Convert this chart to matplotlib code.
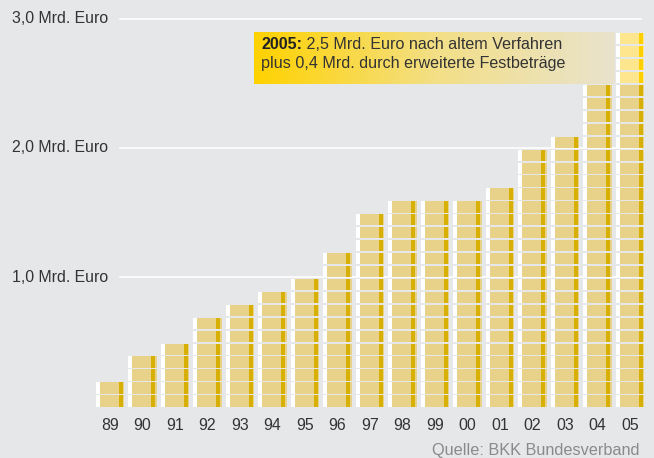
import numpy as np
import matplotlib.pyplot as plt
from matplotlib.patches import Rectangle
from matplotlib.colors import LinearSegmentedColormap

years = ["89", "90", "91", "92", "93", "94", "95", "96", "97",
         "98", "99", "00", "01", "02", "03", "04", "05"]
# Mrd. Euro nach altem Verfahren
values = [0.2, 0.4, 0.5, 0.7, 0.8, 0.9, 1.0, 1.2, 1.5,
          1.6, 1.6, 1.6, 1.7, 2.0, 2.1, 2.5, 2.5]
# zusaetzlich durch erweiterte Festbetraege
extra = [0, 0, 0, 0, 0, 0, 0, 0, 0,
         0, 0, 0, 0, 0, 0, 0, 0.4]
y_ticks = [1.0, 2.0, 3.0]
y_labels = ["1,0 Mrd. Euro", "2,0 Mrd. Euro", "3,0 Mrd. Euro"]

bg = "#e6e7e9"
plt.rcParams['font.family'] = ['Liberation Sans', 'DejaVu Sans']

fig = plt.figure(figsize=(6.54, 4.58), dpi=100, facecolor=bg)
ax = fig.add_axes([0, 0, 1, 1])
ax.set_facecolor(bg)
ax.axis("off")

# pixel -> data mapping
px_x = 32.5
px_y = 129.3
ax.set_xlim(-110 / px_x, (654 - 110) / px_x)
ax.set_ylim((406.5 - 458) / px_y, 406.5 / px_y)

# gridlines
for t, lab in zip(y_ticks, y_labels):
    ax.plot([0.3, 16.35], [t, t], color="white", lw=1.2, zorder=1)
    ax.text(-0.05, t, lab, ha="right", va="center", fontsize=11.4, color="#333333")

coin = 0.1
gap = 0.013
w_white = 4 / px_x
w_body = 19 / px_x
w_gold = 4 / px_x
w_end = 1.5 / px_x
half = (w_white + w_body + w_gold + w_end) / 2


def draw_coin(x, y0, body, gold):
    h = coin - gap
    left = x - half
    ax.add_patch(Rectangle((left, y0), w_white, h, fc="white", ec="none", zorder=3))
    ax.add_patch(Rectangle((left + w_white, y0), w_body, h, fc=body, ec="none", zorder=3))
    ax.add_patch(Rectangle((left + w_white + w_body, y0), w_gold, h, fc=gold, ec="none", zorder=3))
    ax.add_patch(Rectangle((left + w_white + w_body + w_gold, y0), w_end, h, fc=body, ec="none", zorder=3))


for i, (v, e) in enumerate(zip(values, extra)):
    n = int(round(v / coin))
    for k in range(n):
        draw_coin(i, k * coin, "#e8d28a", "#d7af05")
    m = int(round(e / coin))
    for k in range(n, n + m):
        draw_coin(i, k * coin, "#fde68e", "#ffcf00")
    ax.text(i, -0.15, years[i], ha="center", va="center", fontsize=11.4, color="#333333")

# annotation box with gradient
cmap = LinearSegmentedColormap.from_list("g", ["#ffd200", "#f3df86", "#e9e3cd"])
grad = np.linspace(0, 1, 256).reshape(1, -1)
x0, x1 = (254 - 110) / px_x, (615 - 110) / px_x
y0, y1 = (406.5 - 84) / px_y, (406.5 - 32) / px_y
ax.imshow(grad, cmap=cmap, aspect="auto", extent=[x0, x1, y0, y1], zorder=4)

t1 = ax.text(x0 + 7 / px_x, 2.80, "2005:", fontsize=11.6, fontweight="bold",
             color="#222222", va="center", zorder=5)
ax.annotate(" 2,5 Mrd. Euro nach altem Verfahren", xy=(1, 0), xycoords=t1,
            va="bottom", fontsize=11.6, color="#333333", zorder=5)
ax.text(x0 + 7 / px_x, 2.655, "plus 0,4 Mrd. durch erweiterte Festbeträge",
        fontsize=11.6, color="#333333", va="center", zorder=5)

ax.text(16.3, (406.5 - 451) / px_y, "Quelle: BKK Bundesverband", ha="right",
        va="center", fontsize=11.7, color="#8a8a8a")

fig.savefig("out.png", dpi=100, facecolor=bg)
